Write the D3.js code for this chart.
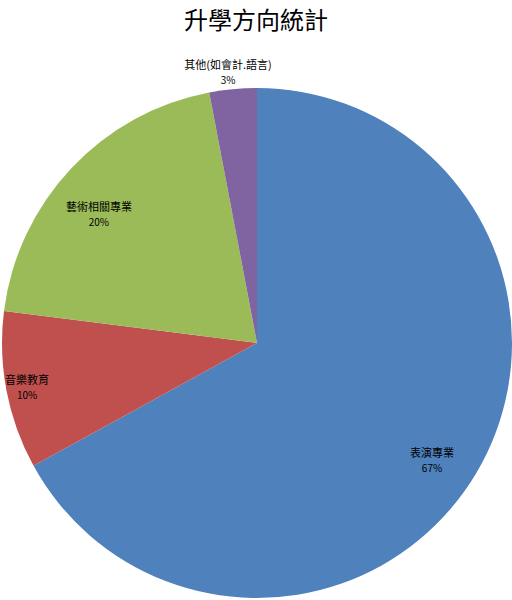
<!DOCTYPE html>
<html>
<head>
<meta charset="utf-8">
<script src="https://cdn.jsdelivr.net/npm/d3@7"></script>
<style>
  body { margin: 0; background: #fff; }
  text { font-family: "Noto Sans CJK TC", "Noto Sans", sans-serif; fill: #000; }
</style>
</head>
<body>
<svg id="chart" width="512" height="600"></svg>
<script>
// chart data
const categories = ["表演專業", "音樂教育", "藝術相關專業", "其他(如會計.語言)"];
const values = [67, 10, 20, 3];
const colors = ["#4F81BD", "#C0504D", "#9BBB59", "#8064A2"];

// label placement: distance as a share of the radius, and a small angle nudge (degrees)
const labelRatio = [0.826, 0.918, 0.8, 1.07];
const labelShift = [3.2, 0, -4, -0.7];

const width = 512, height = 600;
const cx = 257, cy = 343, radius = 255;

const svg = d3.select("#chart");

svg.append("text")
    .attr("x", width / 2)
    .attr("y", 29)
    .attr("text-anchor", "middle")
    .style("font-size", "24px")
    .text("升學方向統計");

const data = categories.map((c, i) => ({
    name: c, value: values[i], color: colors[i],
    ratio: labelRatio[i], shift: labelShift[i]
}));
const total = d3.sum(values);

const pie = d3.pie()
    .value(d => d.value)
    .sort(null);

const arc = d3.arc()
    .innerRadius(0)
    .outerRadius(radius);

const g = svg.append("g")
    .attr("transform", `translate(${cx},${cy})`);

const slices = pie(data);

g.selectAll("path")
    .data(slices)
    .enter()
    .append("path")
    .attr("d", arc)
    .attr("fill", d => d.data.color);

// labels
const labels = g.selectAll(".label")
    .data(slices)
    .enter()
    .append("g")
    .attr("class", "label")
    .attr("transform", d => {
        const r = radius * d.data.ratio;
        const a = (d.startAngle + d.endAngle) / 2 + d.data.shift * Math.PI / 180;
        return `translate(${Math.sin(a) * r},${-Math.cos(a) * r})`;
    });

labels.append("text")
    .attr("text-anchor", "middle")
    .attr("y", -3)
    .style("font-size", "11px")
    .text(d => d.data.name);

labels.append("text")
    .attr("text-anchor", "middle")
    .attr("y", 12)
    .style("font-size", "10px")
    .text(d => Math.round(d.data.value / total * 100) + "%");
</script>
</body>
</html>
